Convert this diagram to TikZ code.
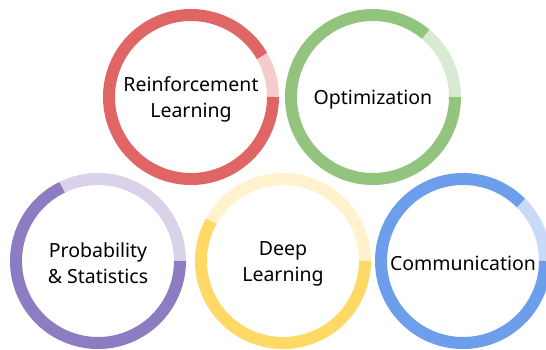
\documentclass[tikz,border=0pt]{standalone}
\usepackage{fontspec}
\setmainfont{Noto Sans}
\definecolor{redD}{HTML}{E06666}
\definecolor{redL}{HTML}{F4CCCC}
\definecolor{grnD}{HTML}{93C47D}
\definecolor{grnL}{HTML}{D9EAD3}
\definecolor{purD}{HTML}{8E7CC3}
\definecolor{purL}{HTML}{D9D2E9}
\definecolor{ylwD}{HTML}{FFD966}
\definecolor{ylwL}{HTML}{FFF2CC}
\definecolor{bluD}{HTML}{6D9EEB}
\definecolor{bluL}{HTML}{C9DAF8}
\begin{document}
\begin{tikzpicture}[x=1pt,y=1pt,
  lbl/.style={align=center, font=\fontsize{19.5}{26}\selectfont, text=black, yshift=-2.5pt},
  ring/.style={line width=12pt}]
\useasboundingbox (0,0) rectangle (546,349);
\fill[white] (0,0) rectangle (546,349);
\clip (0,0) rectangle (546,349);
\coordinate (crl) at (191,252);
\coordinate (cop) at (373,252);
\coordinate (cps) at (98,88);
\coordinate (cdl) at (283,88);
\coordinate (ccm) at (463,88);
\node[lbl] (rl) at (crl) {Reinforcement\\Learning};
\node[lbl] (op) at (cop) {Optimization};
\node[lbl] (ps) at (cps) {Probability\\\& Statistics};
\node[lbl] (dl) at (cdl) {Deep\\Learning};
\node[lbl] (cm) at (ccm) {Communication};
% Reinforcement Learning ring
\draw[ring, redL] (crl) ++(0:82pt) arc[start angle=0, end angle=30, radius=82pt];
\draw[ring, redD] (crl) ++(30:82pt) arc[start angle=30, end angle=360, radius=82pt];
% Optimization ring
\draw[ring, grnL] (cop) ++(0:82pt) arc[start angle=0, end angle=50, radius=82pt];
\draw[ring, grnD] (cop) ++(50:82pt) arc[start angle=50, end angle=360, radius=82pt];
% Probability ring
\draw[ring, purL] (cps) ++(0:82pt) arc[start angle=0, end angle=116, radius=82pt];
\draw[ring, purD] (cps) ++(116:82pt) arc[start angle=116, end angle=360, radius=82pt];
% Deep Learning ring
\draw[ring, ylwL] (cdl) ++(0:82pt) arc[start angle=0, end angle=151, radius=82pt];
\draw[ring, ylwD] (cdl) ++(151:82pt) arc[start angle=151, end angle=360, radius=82pt];
% Communication ring
\draw[ring, bluL] (ccm) ++(0:82pt) arc[start angle=0, end angle=45, radius=82pt];
\draw[ring, bluD] (ccm) ++(45:82pt) arc[start angle=45, end angle=360, radius=82pt];
\end{tikzpicture}
\end{document}
